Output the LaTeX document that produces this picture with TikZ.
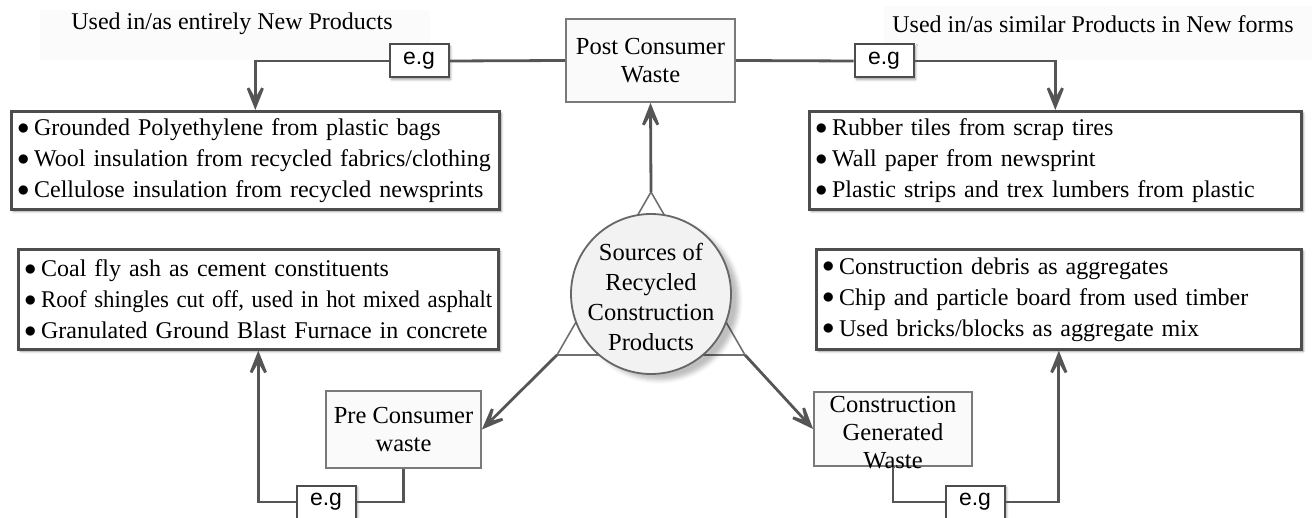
\documentclass[tikz,border=0pt]{standalone}
\usepackage{fontspec}
\usepackage{graphicx}
\setmainfont{Liberation Serif}
\newfontfamily\egfont{Liberation Sans}
\usetikzlibrary{arrows.meta,shadows.blur}
\definecolor{connc}{HTML}{555555}
\definecolor{boxline}{HTML}{4D4D4D}
\definecolor{srcline}{HTML}{7A7A7A}
\definecolor{srcfill}{HTML}{FAFAFA}
\definecolor{circline}{HTML}{666666}
\definecolor{circfill}{HTML}{F2F2F2}
\definecolor{triline}{HTML}{707070}
\definecolor{headbg}{HTML}{FBFBFB}
\newcommand{\bulline}[1]{\mbox{\raisebox{0.1ex}{$\bullet$}\hspace{0.2em}#1}}
\begin{document}
\begin{tikzpicture}[x=0.5pt,y=-0.5pt,
  every node/.style={font=\fontsize{12}{15.5}\selectfont},
  bulletbox/.style={draw=boxline, line width=1.3pt, fill=white, rectangle,
    anchor=north west, inner sep=3pt, align=left,
    blur shadow={shadow xshift=1pt, shadow yshift=-1pt, shadow blur radius=1.2pt, shadow opacity=40}},
  srcbox/.style={draw=srcline, line width=0.9pt, fill=srcfill, inner sep=0pt, align=center,
    font=\fontsize{12.25}{14}\selectfont},
  egbox/.style={draw=boxline, line width=1pt, fill=white, minimum width=29.5pt,
    minimum height=16.5pt, inner sep=0pt, font=\egfont\fontsize{11.5}{13}\selectfont,
    blur shadow={shadow xshift=1pt, shadow yshift=-1pt, shadow blur radius=1.2pt, shadow opacity=40}},
  link/.style={draw=connc, line width=1.4pt},
  linkarrow/.style={link, -{Stealth[length=20pt,width=16pt,inset=14pt]}},
  triedge/.style={draw=triline, line width=0.8pt},
]
\useasboundingbox (0,0) rectangle (1312,518);
\clip (0,0) rectangle (1312,518);

% header backgrounds and texts
\fill[headbg] (40,10) rectangle (430,60);
\fill[headbg] (884,6) rectangle (1312,60);
\node (h1) at (232,24) {Used in/as entirely New Products};
\node (h2) at (1093,24) {Used in/as similar Products in New forms};

% source boxes
\node[srcbox, minimum width=84.5pt, minimum height=41.5pt] (post) at (650.5,60.5) {Post Consumer\\Waste};
\node[srcbox, minimum width=77.5pt, minimum height=38.5pt] (pre) at (403.5,429.5) {Pre Consumer\\waste};
\node[srcbox, minimum width=79pt, minimum height=37pt] (constr) at (893,429) {};
\node[align=center, inner sep=0pt, font=\fontsize{12.25}{14}\selectfont] (constrtext) at (893,433) {Construction\\Generated\\Waste};

% bullet boxes
\node[bulletbox, minimum width=244pt, minimum height=49pt, text width=238pt] (lbox1) at (10,110)
  {\bulline{Grounded Polyethylene from plastic bags}\\
   \bulline{Wool insulation from recycled fabrics/clothing}\\
   \bulline{Cellulose insulation from recycled newsprints}};
\node[bulletbox, minimum width=246pt, minimum height=49pt, text width=240pt] (rbox1) at (808,110)
  {\bulline{Rubber tiles from scrap tires}\\
   \bulline{Wall paper from newsprint}\\
   \bulline{Plastic strips and trex lumbers from plastic}};
\node[bulletbox, minimum width=240pt, minimum height=50pt, text width=234pt] (lbox2) at (17,248)
  {\bulline{Coal fly ash as cement constituents}\\
   \bulline{\scalebox{0.95}[1]{Roof shingles cut off, used in hot mixed asphalt}}\\
   \bulline{Granulated Ground Blast Furnace in concrete}};
\node[bulletbox, minimum width=242.5pt, minimum height=50pt, text width=236.5pt] (rbox2) at (815,248)
  {\bulline{Construction debris as aggregates}\\
   \bulline{Chip and particle board from used timber}\\
   \bulline{Used bricks/blocks as aggregate mix}};

% e.g boxes
\node[egbox] (eg1) at (419,61) {e.g};
\node[egbox] (eg2) at (884,61) {e.g};
\node[egbox] (eg3) at (326,502) {e.g};
\node[egbox] (eg4) at (975,502) {e.g};

% triangle and centre circle
\coordinate (tA) at (651,192);
\coordinate (tL) at (557,355);
\coordinate (tR) at (745,355);
\draw[triedge] (tA) -- (tL) -- (tR) -- cycle;
\node[circle, draw=circline, line width=0.9pt, fill=circfill, minimum size=80pt, inner sep=0pt,
  blur shadow={shadow xshift=4pt, shadow yshift=-3pt, shadow blur radius=2pt, shadow opacity=25}] (src) at (651,294) {};
\node[align=center, inner sep=0pt, font=\fontsize{12.25}{15}\selectfont] (srctext) at (651,297)
  {Sources of\\Recycled\\Construction\\Products};

% arrows from the triangle
\draw[linkarrow] (tA) -- (post.south);
\draw[linkarrow] (tL) -- (pre.east);
\draw[linkarrow] (tR) -- (constr.west);

% example connectors
\draw[link] (post.west) -- (eg1.east);
\draw[linkarrow] (eg1.west) -| (lbox1.north);
\draw[link] (post.east) -- (eg2.west);
\draw[linkarrow] (eg2.east) -| (rbox1.north);
\draw[link] (pre.south) |- (eg3.east);
\draw[linkarrow] (eg3.west) -| (lbox2.south);
\draw[link] (constr.south) |- (eg4.west);
\draw[linkarrow] (eg4.east) -| (rbox2.south);
\end{tikzpicture}
\end{document}
